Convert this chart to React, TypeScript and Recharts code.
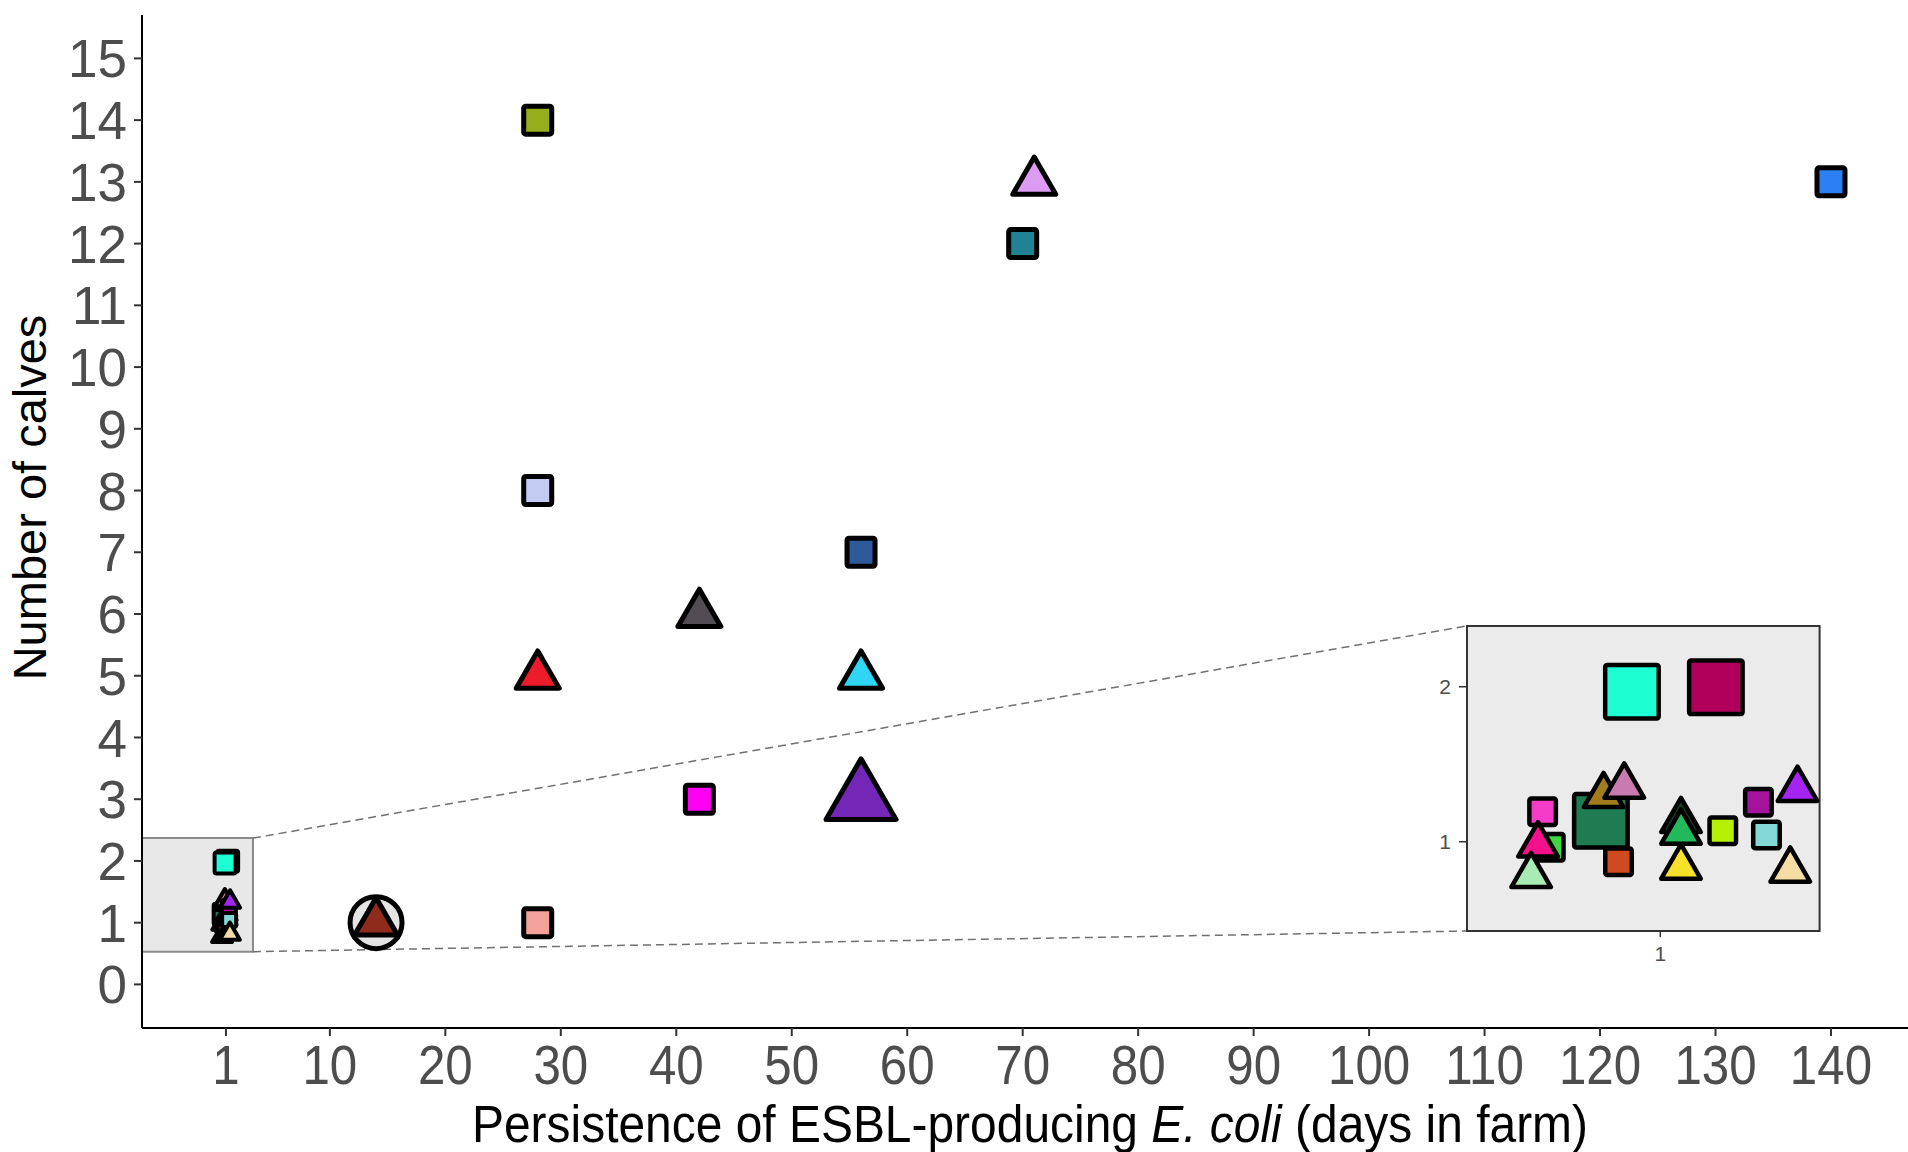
import React from "react";
import {
  ScatterChart,
  Scatter,
  XAxis,
  YAxis,
  ReferenceArea,
  ReferenceLine,
} from "recharts";

// ---------------- data ----------------
const xTicks = [1, 10, 20, 30, 40, 50, 60, 70, 80, 90, 100, 110, 120, 130, 140];
const yTicks = [0, 1, 2, 3, 4, 5, 6, 7, 8, 9, 10, 11, 12, 13, 14, 15];
const insetXTicks = [1];
const insetYTicks = [1, 2];

type Pt = { strain: string; x: number; y: number; marker: "square" | "triangle"; weight: number };

// points outside the x = 1 cluster
const mainPoints: Pt[] = [
  { strain: "s01", x: 28, y: 14, marker: "square", weight: 1 },
  { strain: "s02", x: 71, y: 13, marker: "triangle", weight: 1 },
  { strain: "s03", x: 140, y: 13, marker: "square", weight: 1 },
  { strain: "s04", x: 70, y: 12, marker: "square", weight: 1 },
  { strain: "s05", x: 28, y: 8, marker: "square", weight: 1 },
  { strain: "s06", x: 56, y: 7, marker: "square", weight: 1 },
  { strain: "s07", x: 42, y: 6, marker: "triangle", weight: 1 },
  { strain: "s08", x: 28, y: 5, marker: "triangle", weight: 1 },
  { strain: "s09", x: 56, y: 5, marker: "triangle", weight: 1 },
  { strain: "s10", x: 42, y: 3, marker: "square", weight: 1 },
  { strain: "s11", x: 56, y: 3, marker: "triangle", weight: 2 },
  { strain: "s12", x: 28, y: 1, marker: "square", weight: 1 },
  { strain: "s13", x: 14, y: 1, marker: "triangle", weight: 1 },
];

// circled point
const ringPoints = [{ strain: "ring", x: 14, y: 1 }];

// jittered points at x = 1 (shown magnified in the inset)
const clusterPoints: Pt[] = [
  { strain: "c04", x: 0.713, y: 0.964, marker: "square", weight: 1 },
  { strain: "c03", x: 0.693, y: 1.194, marker: "square", weight: 1 },
  { strain: "c05", x: 0.681, y: 0.979, marker: "triangle", weight: 1 },
  { strain: "c06", x: 0.663, y: 0.781, marker: "triangle", weight: 1 },
  { strain: "c07", x: 0.845, y: 1.135, marker: "square", weight: 2 },
  { strain: "c08", x: 0.891, y: 0.871, marker: "square", weight: 1 },
  { strain: "c09", x: 0.852, y: 1.297, marker: "triangle", weight: 1 },
  { strain: "c10", x: 0.906, y: 1.358, marker: "triangle", weight: 1 },
  { strain: "c11", x: 1.054, y: 1.136, marker: "triangle", weight: 1 },
  { strain: "c12", x: 1.054, y: 1.061, marker: "triangle", weight: 1 },
  { strain: "c13", x: 1.054, y: 0.835, marker: "triangle", weight: 1 },
  { strain: "c14", x: 1.163, y: 1.071, marker: "square", weight: 1 },
  { strain: "c15", x: 1.256, y: 1.254, marker: "square", weight: 1 },
  { strain: "c16", x: 1.277, y: 1.043, marker: "square", weight: 1 },
  { strain: "c17", x: 1.358, y: 1.337, marker: "triangle", weight: 1 },
  { strain: "c18", x: 1.339, y: 0.816, marker: "triangle", weight: 1 },
  { strain: "c02", x: 1.145, y: 1.996, marker: "square", weight: 2 },
  { strain: "c01", x: 0.926, y: 1.968, marker: "square", weight: 2 },
];

// zoom box in main-plot data units, and the inset corners it links to
const zoomBox = { x1: -6.27, x2: 3.34, y1: 0.53, y2: 2.37 };
const insetTopLeft = { x: 108.42, y: 5.806 };
const insetBottomLeft = { x: 108.42, y: 0.865 };

const mainXDomain: [number, number] = [-6.27, 146.67];
const mainYDomain: [number, number] = [-0.706, 15.703];
const insetXDomain: [number, number] = [0.4957, 1.4156];
const insetYDomain: [number, number] = [0.424, 2.392];

const palette: Record<string, string> = {
  s01: "#97ae1c",
  s02: "#dc9cf4",
  s03: "#2d7ff4",
  s04: "#1f8295",
  s05: "#c3cbf3",
  s06: "#2e5a9c",
  s07: "#524c52",
  s08: "#ec1c2a",
  s09: "#2fd5f3",
  s10: "#ff00f5",
  s11: "#7426b6",
  s12: "#f3a199",
  s13: "#8e2b1b",
  c01: "#1dffd2",
  c02: "#b0005c",
  c03: "#f43cc8",
  c04: "#3ed83e",
  c05: "#f5118c",
  c06: "#a9ebb5",
  c07: "#1e7b52",
  c08: "#cf4a1e",
  c09: "#a07c1c",
  c10: "#c97ab0",
  c11: "#1b3d25",
  c12: "#22b95a",
  c13: "#f7e12a",
  c14: "#b5f005",
  c15: "#a3139c",
  c16: "#82d9d6",
  c17: "#a524f2",
  c18: "#f6dda3",
};

// ---------------- styling ----------------
const FONT = "'Liberation Sans', Arial, Helvetica, sans-serif";
const TICK_COLOR = "#4d4d4d";

type ShapeSpec = { sq: [number, number]; tri: [number, number]; stroke: number };
const MAIN_SPEC: ShapeSpec = { sq: [33, 44], tri: [48, 75], stroke: 5 };
const CLUSTER_MAIN_SPEC: ShapeSpec = { sq: [18, 25], tri: [24, 30], stroke: 4 };
const INSET_SPEC: ShapeSpec = { sq: [31, 58], tri: [44, 60], stroke: 4.5 };

function makeShape(spec: ShapeSpec) {
  return (props: any) => {
    const { cx, cy, payload } = props;
    if (cx == null || cy == null || !payload) return <g />;
    const fill = palette[payload.strain] || "#999";
    const w = spec.stroke;
    const idx = payload.weight > 1 ? 1 : 0;
    if (payload.marker === "square") {
      const s = spec.sq[idx] - w;
      return (
        <rect
          x={cx - s / 2}
          y={cy - s / 2}
          width={s}
          height={s}
          rx={2}
          fill={fill}
          stroke="#000"
          strokeWidth={w}
          strokeLinejoin="round"
        />
      );
    }
    const L = spec.tri[idx] - w;
    const h = (L * Math.sqrt(3)) / 2;
    const top = cy - (2 / 3) * h;
    const bot = cy + h / 3;
    return (
      <polygon
        points={`${cx},${top} ${cx + L / 2},${bot} ${cx - L / 2},${bot}`}
        fill={fill}
        stroke="#000"
        strokeWidth={w}
        strokeLinejoin="round"
      />
    );
  };
}

const ringShape = (props: any) => {
  const { cx, cy } = props;
  if (cx == null || cy == null) return <g />;
  return <circle cx={cx} cy={cy} r={26} fill="#e4e4e4" stroke="#000" strokeWidth={5} />;
};

const MainXTick = (p: any) => (
  <g transform={`translate(${p.x},${p.y})`}>
    <text
      x={0}
      y={0}
      dy="0.716em"
      textAnchor="middle"
      transform="scale(0.88,1)"
      fontSize={56}
      fontFamily={FONT}
      fill={TICK_COLOR}
    >
      {p.payload.value}
    </text>
  </g>
);

const MainYTick = (p: any) => (
  <text
    x={p.x}
    y={p.y}
    dy="0.36em"
    textAnchor="end"
    fontSize={53}
    fontFamily={FONT}
    fill={TICK_COLOR}
  >
    {p.payload.value}
  </text>
);

const InsetXTick = (p: any) => (
  <text x={p.x} y={p.y} dy="0.716em" textAnchor="middle" fontSize={21} fontFamily={FONT} fill={TICK_COLOR}>
    {p.payload.value}
  </text>
);

const InsetYTick = (p: any) => (
  <text x={p.x} y={p.y} dy="0.36em" textAnchor="end" fontSize={21} fontFamily={FONT} fill={TICK_COLOR}>
    {p.payload.value}
  </text>
);

const XTitle = (props: any) => {
  const vb = props.viewBox || { x: 142, y: 1028, width: 1766, height: 60 };
  return (
    <text
      x={vb.x + vb.width / 2 + 5}
      y={vb.y + 114}
      textAnchor="middle"
      fontSize={51}
      fontFamily={FONT}
      fill="#000"
      textLength={1116}
      lengthAdjust="spacingAndGlyphs"
    >
      Persistence of ESBL-producing <tspan fontStyle="italic">E. coli</tspan> (days in farm)
    </text>
  );
};

const YTitle = (props: any) => {
  const vb = props.viewBox || { x: 62, y: 15, width: 80, height: 1013 };
  const cy = vb.y + vb.height / 2 - 24;
  return (
    <text
      transform={`translate(46,${cy}) rotate(-90)`}
      textAnchor="middle"
      fontSize={47}
      fontFamily={FONT}
      fill="#000"
    >
      Number of calves
    </text>
  );
};

const mainShape = makeShape(MAIN_SPEC);
const clusterMainShape = makeShape(CLUSTER_MAIN_SPEC);
const insetShape = makeShape(INSET_SPEC);

export default function App() {
  return (
    <div style={{ position: "absolute", left: 0, top: 0, width: 1908, height: 1152, background: "#fff" }}>
      <div style={{ position: "absolute", left: 0, top: 0 }}>
        <ScatterChart width={1908} height={1152} margin={{ top: 15, right: 0, bottom: 64, left: 62 }}>
          <XAxis
            type="number"
            dataKey="x"
            domain={mainXDomain}
            allowDataOverflow
            ticks={xTicks}
            interval={0}
            height={60}
            tickSize={8}
            tickMargin={8}
            axisLine={{ stroke: "#000", strokeWidth: 2 }}
            tickLine={{ stroke: "#333", strokeWidth: 2 }}
            tick={<MainXTick />}
            label={<XTitle />}
          />
          <YAxis
            type="number"
            dataKey="y"
            domain={mainYDomain}
            allowDataOverflow
            ticks={yTicks}
            interval={0}
            width={80}
            tickSize={8}
            tickMargin={7}
            axisLine={{ stroke: "#000", strokeWidth: 2 }}
            tickLine={{ stroke: "#333", strokeWidth: 2 }}
            tick={<MainYTick />}
            label={<YTitle />}
          />
          <ReferenceArea
            x1={zoomBox.x1}
            x2={zoomBox.x2}
            y1={zoomBox.y1}
            y2={zoomBox.y2}
            fill="#e8e8e8"
            fillOpacity={1}
            stroke="#8a8a8a"
            strokeWidth={2}
            ifOverflow="visible"
          />
          <ReferenceLine
            segment={[{ x: zoomBox.x2, y: zoomBox.y2 }, insetTopLeft]}
            stroke="#707070"
            strokeWidth={1.5}
            strokeDasharray="8 5"
            ifOverflow="visible"
          />
          <ReferenceLine
            segment={[{ x: zoomBox.x2, y: zoomBox.y1 }, insetBottomLeft]}
            stroke="#707070"
            strokeWidth={1.5}
            strokeDasharray="8 5"
            ifOverflow="visible"
          />
          <Scatter data={ringPoints} shape={ringShape} isAnimationActive={false} />
          <Scatter data={mainPoints} shape={mainShape} isAnimationActive={false} />
          <Scatter data={clusterPoints} shape={clusterMainShape} isAnimationActive={false} />
        </ScatterChart>
      </div>
      <div style={{ position: "absolute", left: 1426.7, top: 621 }}>
        <ScatterChart width={397.6} height={355} margin={{ top: 5, right: 5, bottom: 0, left: 0 }}>
          <XAxis
            type="number"
            dataKey="x"
            domain={insetXDomain}
            allowDataOverflow
            ticks={insetXTicks}
            interval={0}
            height={45}
            tickSize={6}
            tickMargin={9}
            axisLine={false}
            tickLine={{ stroke: "#333", strokeWidth: 1.5 }}
            tick={<InsetXTick />}
          />
          <YAxis
            type="number"
            dataKey="y"
            domain={insetYDomain}
            allowDataOverflow
            ticks={insetYTicks}
            interval={0}
            width={40}
            tickSize={8}
            tickMargin={8}
            axisLine={false}
            tickLine={{ stroke: "#333", strokeWidth: 1.5 }}
            tick={<InsetYTick />}
          />
          <ReferenceArea
            x1={insetXDomain[0]}
            x2={insetXDomain[1]}
            y1={insetYDomain[0]}
            y2={insetYDomain[1]}
            fill="#ebebeb"
            fillOpacity={1}
            stroke="#333"
            strokeWidth={2}
          />
          <Scatter data={clusterPoints} shape={insetShape} isAnimationActive={false} />
        </ScatterChart>
      </div>
    </div>
  );
}
